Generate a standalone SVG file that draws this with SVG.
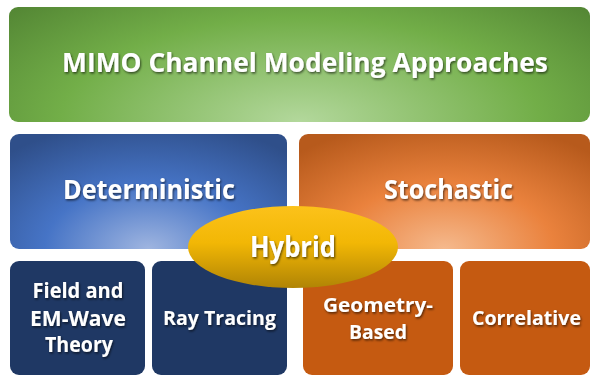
<svg xmlns="http://www.w3.org/2000/svg" width="591" height="376" viewBox="0 0 591 376">
<defs>
<radialGradient id="gGreen" cx="0.5" cy="1" r="0.75" gradientTransform="translate(0.5 1) scale(1 2.2) translate(-0.5 -1)">
<stop offset="0" stop-color="#b3d89c"/>
<stop offset="0.55" stop-color="#72ae48"/>
<stop offset="1" stop-color="#4a7a2e"/>
</radialGradient>
<radialGradient id="gBlue" cx="0.5" cy="1" r="0.75" gradientTransform="translate(0.5 1) scale(1 1.5) translate(-0.5 -1)">
<stop offset="0" stop-color="#9fb5e0"/>
<stop offset="0.5" stop-color="#4674c6"/>
<stop offset="1" stop-color="#2f4f8a"/>
</radialGradient>
<radialGradient id="gOrange" cx="0.5" cy="1" r="0.75" gradientTransform="translate(0.5 1) scale(1 1.5) translate(-0.5 -1)">
<stop offset="0" stop-color="#f5b98d"/>
<stop offset="0.5" stop-color="#ea823d"/>
<stop offset="1" stop-color="#b75a1c"/>
</radialGradient>
<linearGradient id="gGold" x1="0" y1="0" x2="0" y2="1">
<stop offset="0" stop-color="#fcc21a"/>
<stop offset="0.45" stop-color="#f2b705"/>
<stop offset="1" stop-color="#b08405"/>
</linearGradient>
<filter id="ts" x="-10%" y="-20%" width="120%" height="150%">
<feDropShadow dx="1" dy="1.5" stdDeviation="0.8" flood-color="#000" flood-opacity="0.6"/>
</filter>
</defs>
<style>
text { font-family: "Open Sans", "Liberation Sans", sans-serif; font-weight: 700; fill: #ffffff; text-anchor: middle; filter: url(#ts); }
.big { font-size: 27px; }
.det { font-size: 26px; }
.hy { font-size: 28px; }
.sm { font-size: 21px; }
.rs { font-size: 20px; }
</style>
<g id="title">
<rect x="9" y="7" width="581" height="115" rx="9" fill="url(#gGreen)"/>
<text class="big" x="305" y="72" textLength="486" lengthAdjust="spacingAndGlyphs">MIMO Channel Modeling Approaches</text>
</g>
<g id="deterministic">
<rect x="10" y="134" width="277" height="115" rx="9" fill="url(#gBlue)"/>
<text class="det" x="149" y="199" textLength="172" lengthAdjust="spacingAndGlyphs">Deterministic</text>
</g>
<g id="stochastic">
<rect x="299" y="134" width="291" height="115" rx="9" fill="url(#gOrange)"/>
<text class="det" x="448.5" y="199" textLength="129" lengthAdjust="spacingAndGlyphs">Stochastic</text>
</g>
<g id="field">
<rect x="10" y="261" width="135" height="114" rx="9" fill="#1f3864"/>
<text class="sm" x="78" y="298" textLength="91" lengthAdjust="spacingAndGlyphs">Field and</text>
<text class="sm" x="78" y="326" textLength="96" lengthAdjust="spacingAndGlyphs">EM-Wave</text>
<text class="sm" x="79" y="352" textLength="68" lengthAdjust="spacingAndGlyphs">Theory</text>
</g>
<g id="ray">
<rect x="152" y="261" width="135" height="114" rx="9" fill="#1f3864"/>
<text class="rs" x="219.5" y="325" textLength="113" lengthAdjust="spacingAndGlyphs">Ray Tracing</text>
</g>
<g id="geometry">
<rect x="303" y="261" width="150" height="114" rx="9" fill="#c55a11"/>
<text class="rs" x="378" y="312" textLength="110" lengthAdjust="spacingAndGlyphs">Geometry-</text>
<text class="rs" x="378" y="339" textLength="58" lengthAdjust="spacingAndGlyphs">Based</text>
</g>
<g id="correlative">
<rect x="460" y="261" width="130" height="114" rx="9" fill="#c55a11"/>
<text class="rs" x="526.5" y="325" textLength="109" lengthAdjust="spacingAndGlyphs">Correlative</text>
</g>
<g id="hybrid">
<ellipse cx="293" cy="247" rx="105" ry="41" fill="url(#gGold)"/>
<text class="hy" x="293" y="257" textLength="86" lengthAdjust="spacingAndGlyphs">Hybrid</text>
</g>
<g id="connectors"></g>
</svg>
